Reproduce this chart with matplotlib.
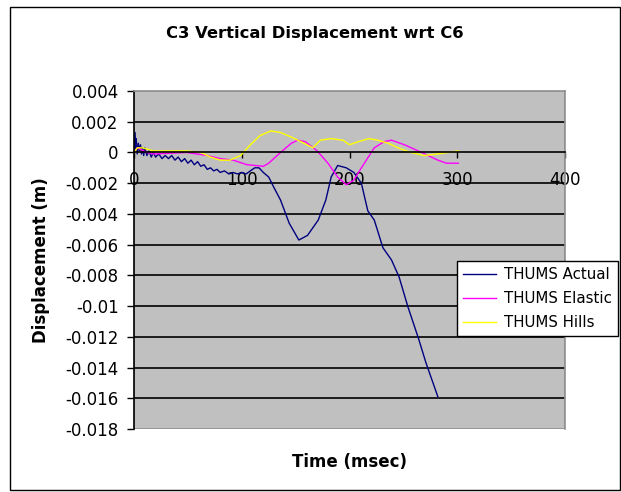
import matplotlib
matplotlib.use("Agg")
import matplotlib.pyplot as plt
from matplotlib.patches import Rectangle

plt.rcParams['font.family'] = ['DejaVu Sans']

# THUMS Actual (time in msec, displacement in mm -> converted to m below)
t_actual = [0, 1, 1.5, 2, 3, 4, 5, 6, 7, 8, 9, 10, 12, 14, 16, 18, 20, 23, 26, 29,
            32, 35, 38, 41, 44, 47, 50, 53, 56, 59, 62, 65, 68, 71, 74, 77, 80, 84,
            88, 92, 96, 100, 104, 108, 112, 116, 120, 125, 130, 136, 144, 153, 161,
            171, 178, 183, 189, 197, 204, 211, 217, 223, 231, 239, 246, 254, 264,
            271, 282]
d_actual = [0, 1.3, 0.2, 0.9, -0.1, 0.6, 0.1, 0.5, -0.1, 0.3, -0.2, 0.3, -0.2, 0.1,
            -0.3, 0.0, -0.3, -0.1, -0.4, -0.2, -0.4, -0.2, -0.5, -0.3, -0.6, -0.4,
            -0.7, -0.5, -0.8, -0.6, -0.9, -0.8, -1.1, -1.0, -1.2, -1.1, -1.3, -1.2,
            -1.4, -1.3, -1.4, -1.3, -1.4, -1.2, -1.0, -1.0, -1.3, -1.6, -2.3, -3.1,
            -4.6, -5.7, -5.4, -4.4, -3.1, -1.6, -0.85, -1.0, -1.3, -2.0, -3.8, -4.4,
            -6.2, -7.0, -8.1, -10.0, -12.1, -13.7, -15.9]

# THUMS Elastic
t_elastic = [0, 3, 12, 18, 49, 68, 80, 92, 105, 120, 125, 136, 146, 152, 159, 170,
             180, 189, 197, 204, 211, 223, 232, 239, 251, 267, 282, 290, 301]
d_elastic = [0, 0.3, 0, -0.1, 0, -0.2, -0.4, -0.5, -0.8, -0.9, -0.7, 0, 0.6, 0.8,
             0.7, 0.1, -0.7, -1.6, -2.1, -1.8, -1.0, 0.3, 0.7, 0.8, 0.5, 0, -0.5,
             -0.7, -0.7]

# THUMS Hills
t_hills = [0, 3, 8, 18, 49, 62, 71, 80, 89, 99, 108, 117, 127, 136, 146, 155, 166,
           173, 183, 194, 200, 208, 218, 226, 236, 245, 257, 269, 282, 301]
d_hills = [0, 0.3, 0.3, 0.1, 0.1, 0, -0.3, -0.5, -0.5, -0.2, 0.5, 1.1, 1.4, 1.3,
           1.0, 0.7, 0.3, 0.8, 0.9, 0.8, 0.5, 0.7, 0.9, 0.8, 0.6, 0.3, 0, -0.2,
           -0.1, 0.1]

W, H = 621, 492
fig = plt.figure(figsize=(W / 100, H / 100), dpi=100)
fig.patch.set_facecolor('white')
fig.patches.append(Rectangle((10 / W, 1 - 490 / H), 610 / W, 483 / H,
                             transform=fig.transFigure, fill=False,
                             edgecolor='black', linewidth=1))

ax = fig.add_axes([134 / W, 1 - 429 / H, 431 / W, 338 / H])
ax.set_facecolor('#c0c0c0')

ax.plot(t_actual, [v / 1000 for v in d_actual], color='#000080', lw=1.0,
        label='THUMS Actual')
ax.plot(t_elastic, [v / 1000 for v in d_elastic], color='#ff00ff', lw=1.0,
        label='THUMS Elastic')
ax.plot(t_hills, [v / 1000 for v in d_hills], color='#ffff00', lw=1.0,
        label='THUMS Hills')

ax.set_xlim(0, 400)
ax.set_ylim(-0.018, 0.004)
ax.set_xticks([0, 100, 200, 300, 400])
yt = [-0.018, -0.016, -0.014, -0.012, -0.01, -0.008, -0.006, -0.004, -0.002, 0,
      0.002, 0.004]
ax.set_yticks(yt)
ax.set_yticklabels(['-0.018', '-0.016', '-0.014', '-0.012', '-0.01', '-0.008',
                    '-0.006', '-0.004', '-0.002', '0', '0.002', '0.004'])

for y in yt[1:-1]:
    if y != 0:
        ax.axhline(y, color='black', lw=1.2, zorder=1)

ax.spines['bottom'].set_position(('data', 0))
ax.spines['bottom'].set_color('black')
ax.spines['bottom'].set_linewidth(1.2)
ax.spines['left'].set_color('black')
ax.spines['left'].set_linewidth(1.2)
for s in ['top', 'right']:
    ax.spines[s].set_color('#909090')
    ax.spines[s].set_linewidth(1.2)

# bottom border of plot area (gray)
ax.add_patch(Rectangle((0, 0), 1, 1, transform=ax.transAxes, fill=False,
                       edgecolor='#909090', lw=1.2, zorder=0.5))

ax.tick_params(axis='x', direction='out', length=4, width=1, pad=9,
               labelsize=12)
ax.tick_params(axis='y', direction='out', length=5, width=1, pad=6,
               labelsize=12)

ax.set_ylabel('Displacement (m)', fontsize=12, fontweight='bold', labelpad=11)
fig.text(349 / W, 1 - 462 / H, 'Time (msec)', fontsize=12, fontweight='bold',
         ha='center', va='center')
fig.text(315 / W, 1 - 33 / H, 'C3 Vertical Displacement wrt C6', fontsize=11.8,
         fontweight='bold', ha='center', va='center')

leg = fig.legend(loc='lower left',
                 bbox_to_anchor=(457 / W, 1 - 336 / H, 161 / W, 81 / H),
                 mode='expand', fontsize=10.8, frameon=True, fancybox=False,
                 framealpha=1, edgecolor='black', handlelength=2.2,
                 labelspacing=0.6, borderpad=0.4, handletextpad=0.5,
                 borderaxespad=0)
leg.get_frame().set_linewidth(1.0)

fig.savefig('out.png', dpi=100)
